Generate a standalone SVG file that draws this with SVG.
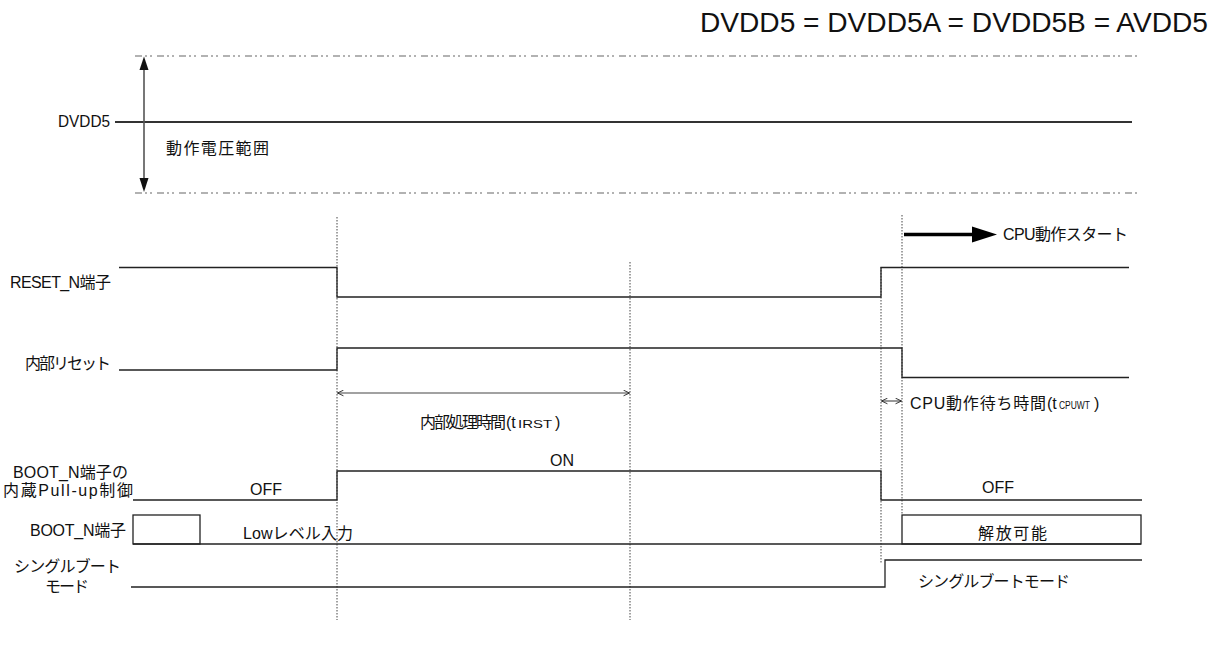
<svg xmlns="http://www.w3.org/2000/svg" width="1214" height="646" viewBox="0 0 1214 646">
<style>
text{font-family:"Liberation Sans","Noto Sans CJK JP",sans-serif;font-size:16px;fill:#111}
.sig{fill:none;stroke:#222;stroke-width:1.3}
.dot{fill:none;stroke:#444;stroke-width:1;stroke-dasharray:1.5 1.5}
.dash{fill:none;stroke:#666;stroke-width:1.2;stroke-dasharray:7 3 2 3 2 5}
.dim{fill:none;stroke:#444;stroke-width:1.1}
.sub{font-size:10px}
</style>
<defs>
<marker id="open" viewBox="0 0 10 10" refX="9.5" refY="5" markerWidth="7" markerHeight="7" markerUnits="userSpaceOnUse" orient="auto-start-reverse">
<path d="M1,1 L9.5,5 L1,9" fill="none" stroke="#222" stroke-width="1.3"/>
</marker>
</defs>
<rect width="1214" height="646" fill="#fff"/>
<text x="1208" y="31.5" text-anchor="end" style="font-size:27.8px" textLength="508" lengthAdjust="spacingAndGlyphs">DVDD5 = DVDD5A = DVDD5B = AVDD5</text>

<g id="dvdd5">
<line class="dash" x1="135" y1="56" x2="1138" y2="56"/>
<line class="dash" x1="135" y1="193" x2="1138" y2="193"/>
<line x1="115" y1="122" x2="1132" y2="122" stroke="#333" stroke-width="1.8"/>
<line x1="144" y1="68" x2="144" y2="180" stroke="#555" stroke-width="1.6"/>
<polygon points="144,56.5 139.5,70 148.5,70" fill="#111"/>
<polygon points="144,192 139.5,178 148.5,178" fill="#111"/>
<text x="58" y="127" textLength="52" lengthAdjust="spacingAndGlyphs">DVDD5</text>
<text x="166" y="154" textLength="103" lengthAdjust="spacing">動作電圧範囲</text>
</g>

<g id="connectors">
<line class="dot" x1="337" y1="217" x2="337" y2="620"/>
<line class="dot" x1="630" y1="262" x2="630" y2="620"/>
<line class="dot" x1="881" y1="267" x2="881" y2="564"/>
<line class="dot" x1="902" y1="215" x2="902" y2="514"/>
<line class="dim" x1="337.5" y1="393" x2="629.5" y2="393" marker-start="url(#open)" marker-end="url(#open)"/>
<line class="dim" x1="881.5" y1="401" x2="901.5" y2="401" marker-start="url(#open)" marker-end="url(#open)"/>
<line x1="904" y1="234.5" x2="976" y2="234.5" stroke="#000" stroke-width="3.5"/>
<polygon points="972,226.5 997,234.5 972,242.5" fill="#000"/>
</g>

<g id="cpu-start">
<text x="1003" y="240" textLength="125" lengthAdjust="spacing">CPU動作スタート</text>
</g>

<g id="reset-n">
<polyline class="sig" points="119,267.5 337,267.5 337,297 881,297 881,267.5 1129,267.5"/>
<text x="10" y="288" textLength="101" lengthAdjust="spacing">RESET_N端子</text>
</g>

<g id="internal-reset">
<polyline class="sig" points="119,370 337,370 337,348 902,348 902,377.5 1129,377.5"/>
<text x="25" y="369" textLength="86" lengthAdjust="spacing">内部リセット</text>
<text x="420" y="428"><tspan textLength="86" lengthAdjust="spacing">内部処理時間</tspan><tspan x="506">(t</tspan><tspan class="sub" x="518" textLength="34" lengthAdjust="spacingAndGlyphs">IRST</tspan><tspan x="555">)</tspan></text>
<text x="910" y="409"><tspan textLength="136" lengthAdjust="spacing">CPU動作待ち時間</tspan><tspan x="1047">(t</tspan><tspan class="sub" x="1059" textLength="31" lengthAdjust="spacingAndGlyphs">CPUWT</tspan><tspan x="1094">)</tspan></text>
</g>

<g id="boot-pullup">
<polyline class="sig" points="133,500 337,500 337,471 881,471 881,500 1142,500"/>
<text x="13" y="478" textLength="115" lengthAdjust="spacing">BOOT_N端子の</text>
<text x="3" y="496" textLength="130" lengthAdjust="spacing">内蔵Pull-up制御</text>
<text x="250" y="495">OFF</text>
<text x="562" y="466" text-anchor="middle">ON</text>
<text x="982" y="493">OFF</text>
</g>

<g id="boot-n">
<rect class="sig" x="133" y="515" width="67" height="29"/>
<line class="sig" x1="133" y1="544" x2="1141" y2="544"/>
<rect class="sig" x="902" y="515" width="239" height="29"/>
<text x="30" y="536" textLength="96" lengthAdjust="spacing">BOOT_N端子</text>
<text x="243" y="539" textLength="110" lengthAdjust="spacing">Lowレベル入力</text>
<text x="978" y="539" textLength="69" lengthAdjust="spacing">解放可能</text>
</g>

<g id="single-boot">
<polyline class="sig" points="131,587 885,587 885,560 1142,560"/>
<text x="14" y="572" textLength="107" lengthAdjust="spacing">シングルブート</text>
<text x="45" y="592" textLength="44" lengthAdjust="spacing">モード</text>
<text x="918" y="587" textLength="152" lengthAdjust="spacing">シングルブートモード</text>
</g>
</svg>
